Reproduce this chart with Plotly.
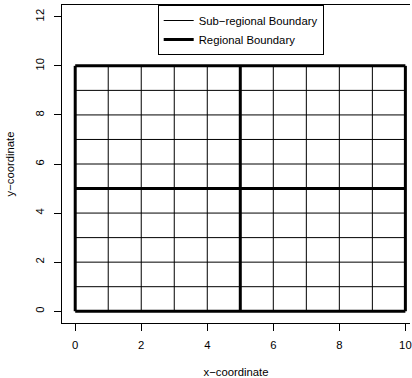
import plotly.graph_objects as go

# Data
thin_positions = [1, 2, 3, 4, 6, 7, 8, 9]
thick_positions = [0, 5, 10]
extent = [0, 10]
x_ticks = [0, 2, 4, 6, 8, 10]
y_ticks = [0, 2, 4, 6, 8, 10, 12]
labels = ["Sub\u2212regional Boundary", "Regional Boundary"]


def grid_xy(positions, lo, hi):
    xs, ys = [], []
    for p in positions:
        xs += [p, p, None]
        ys += [lo, hi, None]
    for p in positions:
        xs += [lo, hi, None]
        ys += [p, p, None]
    return xs, ys


tx, ty = grid_xy(thin_positions, extent[0], extent[1])
kx, ky = grid_xy(thick_positions, extent[0], extent[1])

fig = go.Figure()
fig.add_trace(go.Scatter(x=tx, y=ty, mode="lines", name=labels[0],
                         line=dict(color="black", width=1)))
fig.add_trace(go.Scatter(x=kx, y=ky, mode="lines", name=labels[1],
                         line=dict(color="black", width=3)))

font = dict(family="Liberation Sans, Arial, sans-serif", size=11.3, color="black")

fig.update_layout(
    width=412, height=378,
    margin=dict(l=62, r=0, t=5, b=54),
    paper_bgcolor="white", plot_bgcolor="white",
    font=font,
    showlegend=True,
    legend=dict(x=0.275, y=1, xanchor="left", yanchor="top",
                bordercolor="black", borderwidth=1, bgcolor="white",
                font=font, tracegroupgap=0, entrywidth=126,
                entrywidthmode="pixels"),
    xaxis=dict(range=[-0.4, 10.14], tickvals=x_ticks, ticks="outside",
               ticklen=7, tickcolor="black", tickwidth=1,
               ticklabeloverflow="allow", ticklabelstandoff=4,
               showline=True, linecolor="black", linewidth=1, mirror=True,
               showgrid=False, zeroline=False,
               title=dict(text="x\u2212coordinate", font=font, standoff=20)),
    yaxis=dict(range=[-0.48, 12.48], tickvals=y_ticks, ticks="outside",
               ticklen=7, tickcolor="black", tickwidth=1, tickangle=-90,
               ticklabeloverflow="allow", ticklabelstandoff=5,
               showline=True, linecolor="black", linewidth=1, mirror=False,
               showgrid=False, zeroline=False,
               title=dict(text="y\u2212coordinate", font=font, standoff=17)),
)

fig.write_html("out.html")
